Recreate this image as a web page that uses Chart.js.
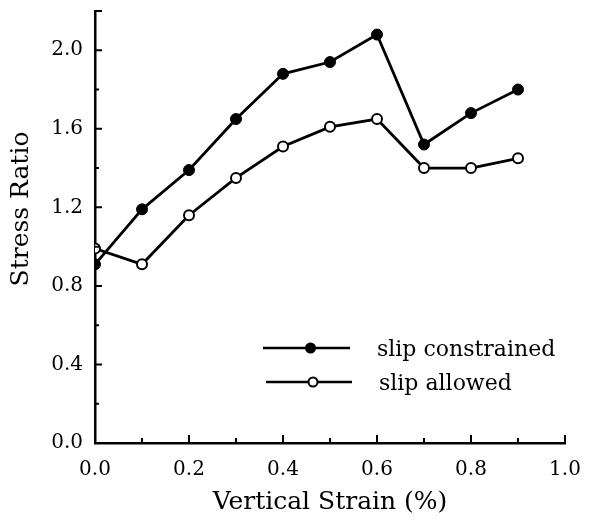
<!DOCTYPE html>
<html>
<head>
<meta charset="utf-8">
<script src="https://cdn.jsdelivr.net/npm/chart.js@4"></script>
<style>
  html, body { margin: 0; padding: 0; background: #fff; }
  #wrap { width: 593px; height: 521px; }
</style>
</head>
<body>
<div id="wrap"><canvas id="chart" width="593" height="521"></canvas></div>
<script>
// data
const strain = [0.0, 0.1, 0.2, 0.3, 0.4, 0.5, 0.6, 0.7, 0.8, 0.9];
const slipConstrained = [0.91, 1.19, 1.39, 1.65, 1.88, 1.94, 2.08, 1.52, 1.68, 1.80];
const slipAllowed = [0.99, 0.91, 1.16, 1.35, 1.51, 1.61, 1.65, 1.40, 1.40, 1.45];
const xTicks = [0.0, 0.2, 0.4, 0.6, 0.8, 1.0];
const yTicks = [0.0, 0.4, 0.8, 1.2, 1.6, 2.0];

const FONT = "'DejaVu Serif', serif";

function pts(ys) {
  return strain.map((x, i) => ({ x: x, y: ys[i] }));
}

// tick marks pointing into the plot, plus the little cap at the top of the y axis
const innerTicks = {
  id: 'innerTicks',
  afterDraw(chart) {
    const ctx = chart.ctx;
    const xs = chart.scales.x, ys = chart.scales.y;
    const left = xs.left, bottom = ys.bottom;
    ctx.save();
    ctx.strokeStyle = '#000';
    ctx.lineWidth = 2;
    ctx.beginPath();
    for (let i = 1; i <= 10; i++) {
      const px = xs.getPixelForValue(i / 10);
      ctx.moveTo(px, bottom);
      ctx.lineTo(px, bottom - (i % 2 === 0 ? 8 : 5));
    }
    for (let i = 1; i <= 11; i++) {
      const py = ys.getPixelForValue(i / 5);
      ctx.moveTo(left, py);
      ctx.lineTo(left + (i % 2 === 0 || i === 11 ? 7 : 4), py);
    }
    ctx.stroke();

    // y axis title, sits a bit above the middle of the axis
    ctx.fillStyle = '#000';
    ctx.font = '25px ' + FONT;
    ctx.textAlign = 'center';
    ctx.textBaseline = 'middle';
    ctx.translate(21, 209);
    ctx.rotate(-Math.PI / 2);
    ctx.fillText('Stress Ratio', 0, 0);
    ctx.restore();
  }
};

// legend drawn inside the plot
const innerLegend = {
  id: 'innerLegend',
  afterDraw(chart) {
    const ctx = chart.ctx;
    const rows = [
      { label: 'slip constrained', fill: '#000', y: 348, x0: 263, x1: 350, tx: 377 },
      { label: 'slip allowed', fill: '#fff', y: 382, x0: 266, x1: 352, tx: 379 }
    ];
    ctx.save();
    rows.forEach(r => {
      ctx.strokeStyle = '#000';
      ctx.lineWidth = 2.5;
      ctx.beginPath();
      ctx.moveTo(r.x0, r.y);
      ctx.lineTo(r.x1, r.y);
      ctx.stroke();
      ctx.beginPath();
      ctx.arc((r.x0 + r.x1) / 2 + 4, r.y, 4.5, 0, Math.PI * 2);
      ctx.fillStyle = r.fill;
      ctx.fill();
      ctx.lineWidth = 2;
      ctx.stroke();
      ctx.fillStyle = '#000';
      ctx.font = '22px ' + FONT;
      ctx.textBaseline = 'middle';
      ctx.fillText(r.label, r.tx, r.y + 2);
    });
    ctx.restore();
  }
};

new Chart(document.getElementById('chart'), {
  type: 'line',
  data: {
    datasets: [
      {
        label: 'slip constrained',
        data: pts(slipConstrained),
        borderColor: '#000',
        backgroundColor: '#000',
        borderWidth: 2.8,
        pointRadius: 5.5,
        pointBorderWidth: 1,
        pointBackgroundColor: '#000',
        tension: 0
      },
      {
        label: 'slip allowed',
        data: pts(slipAllowed),
        borderColor: '#000',
        backgroundColor: '#fff',
        borderWidth: 2.8,
        pointRadius: 5,
        pointBorderWidth: 2,
        pointBackgroundColor: '#fff',
        tension: 0
      }
    ]
  },
  options: {
    responsive: false,
    animation: false,
    layout: { padding: { top: 11, right: 28, left: 0, bottom: 0 } },
    plugins: { legend: { display: false }, tooltip: { enabled: false } },
    scales: {
      x: {
        type: 'linear',
        min: 0,
        max: 1,
        afterBuildTicks: s => { s.ticks = xTicks.map(v => ({ value: v })); },
        afterFit: s => { s.height = 78; s.paddingLeft = 0; s.paddingRight = 0; },
        grid: { display: false, drawTicks: false },
        border: { display: true, color: '#000', width: 2.5 },
        ticks: {
          color: '#000',
          padding: 15,
          maxRotation: 0,
          font: { family: FONT, size: 20 },
          callback: v => v.toFixed(1)
        },
        title: {
          display: true,
          text: 'Vertical Strain (%)',
          color: '#000',
          padding: { top: 0 },
          font: { family: FONT, size: 25 }
        }
      },
      y: {
        type: 'linear',
        min: 0,
        max: 2.2,
        afterBuildTicks: s => { s.ticks = yTicks.map(v => ({ value: v })); },
        afterFit: s => { s.width = 95; s.paddingTop = 0; s.paddingBottom = 0; },
        grid: { display: false, drawTicks: false },
        border: { display: true, color: '#000', width: 2.5 },
        ticks: {
          color: '#000',
          padding: 12,
          font: { family: FONT, size: 20 },
          callback: v => v.toFixed(1)
        },
        title: { display: false }
      }
    }
  },
  plugins: [innerTicks, innerLegend]
});
</script>
</body>
</html>
